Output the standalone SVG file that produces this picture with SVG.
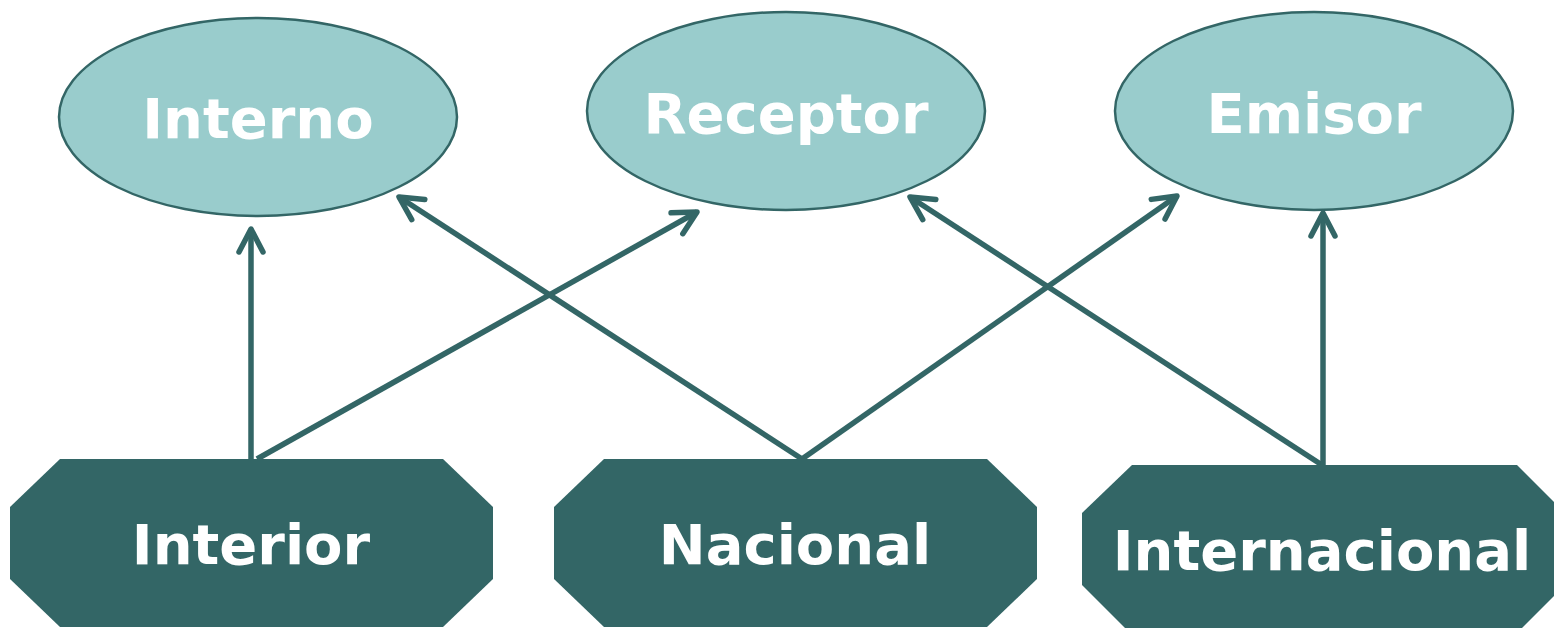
<svg xmlns="http://www.w3.org/2000/svg" width="1554" height="628" viewBox="0 0 1554 628">
<style>
.ell{fill:#99CCCC;stroke:#336666;stroke-width:2.5}
.oct{fill:#336666;stroke:none}
.lbl{font-family:"DejaVu Sans",sans-serif;font-weight:bold;font-size:56px;fill:#ffffff;text-anchor:middle}
.con{stroke:#336666;stroke-width:5.5;fill:none;marker-end:url(#arr)}
</style>
<defs>
<marker id="arr" markerUnits="userSpaceOnUse" markerWidth="40" markerHeight="40" viewBox="-30 -20 40 40" refX="0" refY="0" orient="auto" overflow="visible">
<path d="M-23,-12 L0,0 L-23,12" fill="none" stroke="#336666" stroke-width="5.5" stroke-linecap="round" stroke-linejoin="round"/>
</marker>
</defs>
<rect width="1554" height="628" fill="#ffffff"/>
<g id="connectors">
<line class="con" x1="251" y1="459" x2="251" y2="229"/>
<line class="con" x1="257" y1="459" x2="697" y2="212"/>
<line class="con" x1="802" y1="459" x2="399" y2="197"/>
<line class="con" x1="802" y1="459" x2="1177" y2="196"/>
<line class="con" x1="1322" y1="465" x2="910" y2="197"/>
<line class="con" x1="1323" y1="465" x2="1323" y2="213"/>
</g>
<g id="interno">
<ellipse class="ell" cx="258" cy="117" rx="199" ry="99"/>
<text class="lbl" x="258" y="138">Interno</text>
</g>
<g id="receptor">
<ellipse class="ell" cx="786" cy="111" rx="199" ry="99"/>
<text class="lbl" x="786" y="133">Receptor</text>
</g>
<g id="emisor">
<ellipse class="ell" cx="1314" cy="111" rx="199" ry="99"/>
<text class="lbl" x="1314" y="133">Emisor</text>
</g>
<g id="interior">
<polygon class="oct" points="60,459 443,459 493,507 493,579 443,627 60,627 10,579 10,507"/>
<text class="lbl" x="251" y="564">Interior</text>
</g>
<g id="nacional">
<polygon class="oct" points="604,459 987,459 1037,507 1037,579 987,627 604,627 554,579 554,507"/>
<text class="lbl" x="795" y="564">Nacional</text>
</g>
<g id="internacional">
<polygon class="oct" points="1132,465 1517,465 1565,513 1565,585 1517,633 1130,633 1082,585 1082,513"/>
<text class="lbl" x="1322" y="570">Internacional</text>
</g>
</svg>
